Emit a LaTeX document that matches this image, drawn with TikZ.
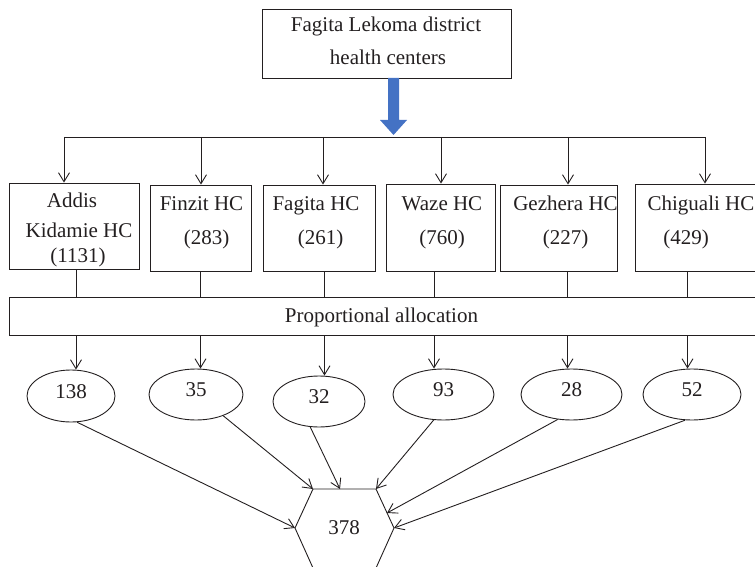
\documentclass[tikz,border=0pt]{standalone}
\usepackage{fontspec}
\setmainfont{Liberation Serif}
\usetikzlibrary{arrows.meta,shapes.geometric}
\definecolor{ink}{RGB}{35,31,32}
\definecolor{arrowblue}{RGB}{68,114,196}
\begin{document}
\begin{tikzpicture}[x=1pt,y=-1pt,
  every node/.style={font=\fontsize{21}{25}\selectfont, text=ink},
  txt/.style={anchor=base, inner sep=0pt},
  box/.style={draw=ink, line width=0.9pt, rectangle, inner sep=0pt},
  oval/.style={draw=ink, line width=0.9pt, ellipse, inner sep=0pt, text height=15pt, text depth=11pt},
  conn/.style={draw=ink, line width=0.9pt},
  arr/.style={conn, -{Straight Barb[length=9pt,width=11pt]}},
]
\useasboundingbox (0,0) rectangle (755,567);

% top box
\node[box, minimum width=249pt, minimum height=69pt] (top) at (386.5,43.5) {};
\node[txt] (top1) at (386,32) {Fagita Lekoma district};
\node[txt] (top2) at (388,65) {health centers};

% blue arrow
\coordinate (bluetip) at (393.5,135);
\fill[arrowblue] (388,78) -- (399,78) -- (399,120) -- (407,120) -- (bluetip) -- (380,120) -- (388,120) -- cycle;

% bus
\coordinate (bus1) at (64,137);
\coordinate (bus2) at (201,137);
\coordinate (bus3) at (323,137);
\coordinate (bus4) at (441,137);
\coordinate (bus5) at (568,137);
\coordinate (bus6) at (705,137);
\draw[conn] (bus1) -- (bus6);

% health centre boxes
\node[box, minimum width=130pt, minimum height=86pt] (b1) at (74,226) {};
\node[box, minimum width=101pt, minimum height=86pt] (b2) at (200.5,228) {};
\node[box, minimum width=112pt, minimum height=86pt] (b3) at (319,228) {};
\node[box, minimum width=109pt, minimum height=87pt] (b4) at (440.5,227.5) {};
\node[box, minimum width=117pt, minimum height=86pt] (b5) at (558.5,228) {};
\node[box, minimum width=125pt, minimum height=87pt] (b6) at (697.5,227.5) {};

\node[txt] (b1a) at (72,207) {Addis};
\node[txt] (b1b) at (79,237) {Kidamie HC};
\node[txt] (b1c) at (78,262) {(1131)};
\node[txt] (b2a) at (201.5,210) {Finzit HC};
\node[txt] (b2b) at (206.5,244) {(283)};
\node[txt] (b3a) at (316,210) {Fagita HC};
\node[txt] (b3b) at (320.5,244) {(261)};
\node[txt] (b4a) at (442,210) {Waze HC};
\node[txt] (b4b) at (442,244) {(760)};
\node[txt] (b5a) at (565.5,210) {Gezhera HC};
\node[txt] (b5b) at (565.5,244) {(227)};
\node[txt] (b6a) at (701,210) {Chiguali HC};
\node[txt] (b6b) at (686,244) {(429)};

\foreach \i in {1,...,6} {
  \draw[arr] (bus\i) -- (bus\i |- b\i.north);
}

% allocation box
\node[box, minimum width=753pt, minimum height=38pt] (alloc) at (385.5,316) {};
\node[txt] (alloctxt) at (381.5,322) {Proportional allocation};

% column x positions
\coordinate (x1) at (76,0);
\coordinate (x2) at (200.5,0);
\coordinate (x3) at (324.5,0);
\coordinate (x4) at (434,0);
\coordinate (x5) at (567.5,0);
\coordinate (x6) at (687.5,0);

% ellipses
\node[oval, minimum width=88pt, minimum height=52pt] (e1) at (71,396) {138};
\node[oval, minimum width=94pt, minimum height=51pt] (e2) at (196,394.5) {35};
\node[oval, minimum width=92pt, minimum height=51pt] (e3) at (319,401.5) {32};
\node[oval, minimum width=101pt, minimum height=51pt] (e4) at (443.5,394.5) {93};
\node[oval, minimum width=101pt, minimum height=51pt] (e5) at (571.5,394.5) {28};
\node[oval, minimum width=98pt, minimum height=51pt] (e6) at (692,394.5) {52};

\foreach \i in {1,...,6} {
  \draw[conn] (x\i |- b\i.south) -- (x\i |- alloc.north);
  \draw[arr] (x\i |- alloc.south) -- (x\i |- e\i.north);
}

% hexagon
\coordinate (hTL) at (313,489);
\coordinate (hT) at (340,489);
\coordinate (hTR) at (376,489);
\coordinate (hRU) at (387,513);
\coordinate (hR) at (394,528);
\coordinate (hBR) at (376,568);
\coordinate (hBL) at (313,568);
\coordinate (hL) at (295,528);
\draw[conn, line join=miter] (hTL) -- (hTR) -- (hR) -- (hBR) -- (hBL) -- (hL) -- cycle;
\node[txt] (total) at (344,534) {378};

\draw[arr] (e1.-77) -- (hL);
\draw[arr] (e2.-38) -- (hTL);
\draw[arr] (e3.-109) -- (hT);
\draw[arr] (e4.-111) -- (hTR);
\draw[arr] (e5.-119) -- (hRU);
\draw[arr] (e6.-105) -- (hR);
\end{tikzpicture}
\end{document}
